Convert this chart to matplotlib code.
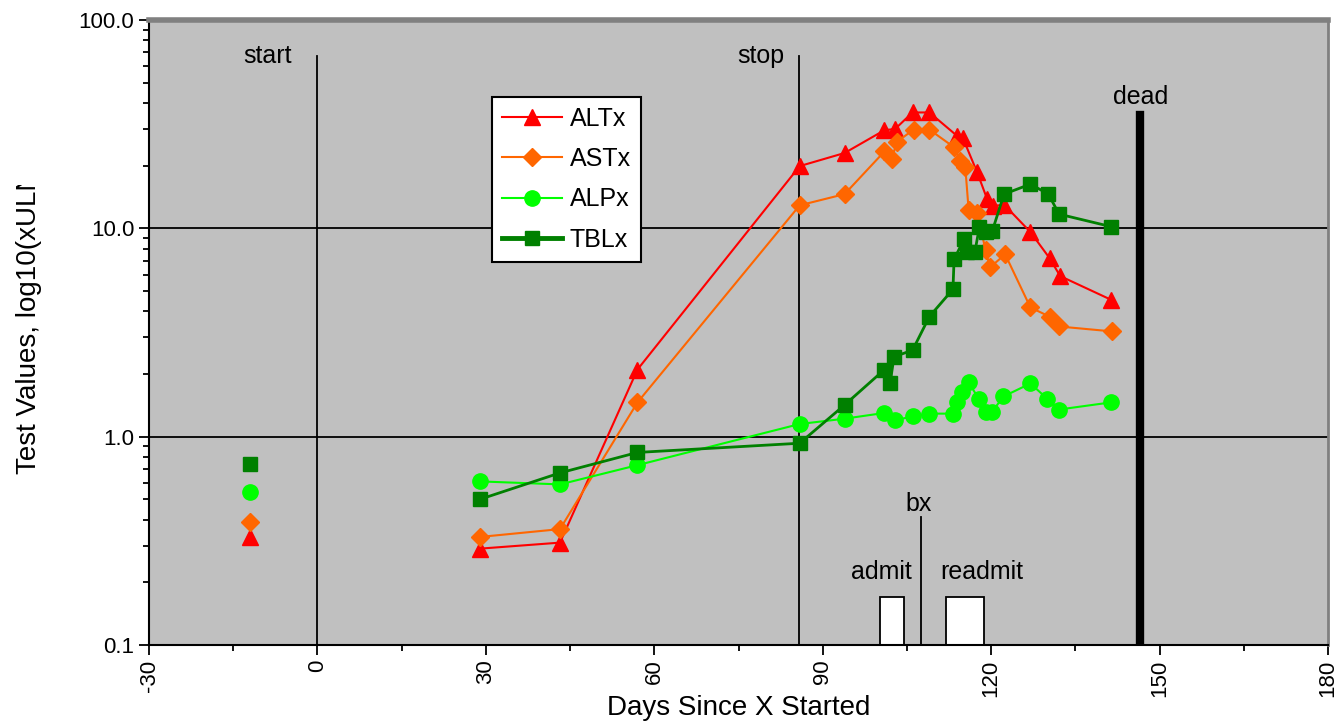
import matplotlib.pyplot as plt
from matplotlib.patches import Rectangle
from matplotlib.transforms import Bbox

plt.rcParams['font.family'] = ['Liberation Sans', 'DejaVu Sans']

# baseline values (before start), plotted as lone markers
base_day = -12
alt_base = 0.33
ast_base = 0.39
alp_base = 0.54
tbl_base = 0.74

alt_days = [28.9, 43.2, 57, 85.9, 93.9, 101, 102.9, 106, 109, 114, 115, 117.5, 119.3, 120.4, 122.3, 127, 130.4, 132.3, 141.3]
alt_vals = [0.29, 0.31, 2.1, 19.9, 23, 29.6, 30, 36, 36, 27.7, 27, 18.6, 13.8, 12.8, 13, 9.6, 7.2, 5.9, 4.55]

ast_days = [28.9, 43.2, 57, 85.9, 93.9, 101, 102.3, 103.2, 106.2, 109, 113.4, 114.5, 115.4, 116, 117.5, 119, 119.8, 122.5, 127, 130.4, 132.1, 141.6]
ast_vals = [0.33, 0.36, 1.46, 12.9, 14.6, 23.4, 21.5, 26, 29.8, 29.8, 24.5, 21, 19.6, 12.2, 11.8, 7.9, 6.5, 7.5, 4.17, 3.77, 3.38, 3.2]

alp_days = [28.9, 43.2, 57, 85.9, 93.9, 101, 102.9, 106, 108.9, 113.2, 114, 114.8, 116, 117.8, 119, 120.2, 122.2, 127, 130, 132.1, 141.3]
alp_vals = [0.61, 0.59, 0.73, 1.15, 1.22, 1.3, 1.2, 1.25, 1.29, 1.29, 1.47, 1.63, 1.82, 1.52, 1.32, 1.32, 1.56, 1.8, 1.52, 1.35, 1.46]

tbl_days = [28.9, 43.2, 57, 85.9, 93.9, 101, 102, 102.7, 106, 109, 113.2, 113.4, 115.2, 115.7, 117.1, 117.9, 119, 120.2, 122.3, 127, 130.2, 132.1, 141.3]
tbl_vals = [0.50, 0.67, 0.84, 0.93, 1.42, 2.1, 1.8, 2.42, 2.6, 3.77, 5.1, 7.1, 8.9, 7.7, 7.7, 10.1, 9.6, 9.7, 14.6, 16.3, 14.6, 11.7, 10.2]

# events
start_day, stop_day, bx_day, dead_day = 0, 85.7, 107.5, 146.6
admit = (100.2, 104.5)
readmit = (112, 118.8)

fig = plt.figure(figsize=(13.38, 7.23), dpi=100)
ax = fig.add_axes([0.1114, 0.1079, 0.8811, 0.8644])
ax.set_facecolor('#c0c0c0')
ax.set_yscale('log')
ax.set_xlim(-30, 180)
ax.set_ylim(0.1, 100)

ax.axhline(1.0, color='black', lw=1.3, zorder=1)
ax.axhline(10.0, color='black', lw=1.3, zorder=1)

ax.plot([start_day, start_day], [0.1, 67], color='black', lw=1.3, zorder=1)
ax.plot([stop_day, stop_day], [0.1, 67], color='black', lw=1.3, zorder=1)
ax.plot([bx_day, bx_day], [0.1, 0.41], color='black', lw=1.3, zorder=1)
ax.plot([dead_day, dead_day], [0.1, 35], color='black', lw=6, zorder=1)
ax.text(-4.5, 67, 'start', ha='right', va='center', fontsize=18)
ax.text(83.2, 67, 'stop', ha='right', va='center', fontsize=18)
ax.text(dead_day, 37.5, 'dead', ha='center', va='bottom', fontsize=18)
ax.text(bx_day - 0.4, 0.415, 'bx', ha='center', va='bottom', fontsize=18)

for (a, b) in (admit, readmit):
    ax.add_patch(Rectangle((a, 0.1), b - a, 0.07, facecolor='white', edgecolor='black', lw=1.3, zorder=2))
ax.text(100.5, 0.196, 'admit', ha='center', va='bottom', fontsize=18)
ax.text(118.4, 0.196, 'readmit', ha='center', va='bottom', fontsize=18)

ax.plot(alt_days, alt_vals, color='#ff0000', marker='^', ms=11, lw=1.5, label='ALTx', zorder=3)
ax.plot(ast_days, ast_vals, color='#ff6600', marker='D', ms=9, lw=1.5, label='ASTx', zorder=3)
ax.plot(alp_days, alp_vals, color='#00ff00', marker='o', ms=11, lw=1.5, label='ALPx', zorder=3)
ax.plot(tbl_days, tbl_vals, color='#008000', marker='s', ms=10, lw=2, label='TBLx', zorder=3)

ax.plot(base_day, alt_base, color='#ff0000', marker='^', ms=11, ls='none', zorder=3)
ax.plot(base_day, ast_base, color='#ff6600', marker='D', ms=9, ls='none', zorder=3)
ax.plot(base_day, alp_base, color='#00ff00', marker='o', ms=11, ls='none', zorder=3)
ax.plot(base_day, tbl_base, color='#008000', marker='s', ms=10, ls='none', zorder=3)

leg = ax.legend(loc='upper left', bbox_to_anchor=(0.291, 0.877), fontsize=18, fancybox=False,
                framealpha=1, edgecolor='black', handlelength=2.4, handletextpad=0.3,
                borderpad=0.4, borderaxespad=0, labelspacing=0.65)
leg.get_frame().set_linewidth(1.5)
leg.get_lines()[3].set_linewidth(3.5)

ax.set_xticks(range(-30, 181, 30))
ax.set_xticks(range(-15, 181, 30), minor=True)
ax.set_xticklabels([str(v) for v in range(-30, 181, 30)], rotation=90, fontsize=16)
ax.set_yticks([0.1, 1, 10, 100])
ax.set_yticklabels(['0.1', '1.0', '10.0', '100.0'], fontsize=16)
ax.tick_params(axis='both', which='major', length=7, width=1.3, direction='out')
ax.tick_params(axis='both', which='minor', length=4, width=1.3, direction='out')
ax.tick_params(axis='y', which='minor', labelleft=False)

ax.spines['left'].set_linewidth(1.5)
ax.spines['bottom'].set_linewidth(1.5)
ax.spines['top'].set_color('#808080')
ax.spines['top'].set_linewidth(4)
ax.spines['right'].set_color('#808080')
ax.spines['right'].set_linewidth(2)

ax.set_xlabel('Days Since X Started', fontsize=20, labelpad=-1)
ylab = fig.text(0.012, 1 - 474 / 723, 'Test Values, log10(xULN)', rotation=90, ha='left', va='bottom', fontsize=20)
# the original label is cut off near its top
ylab.set_clip_box(Bbox.from_extents(0, 0, 200, 723 - 185))

fig.savefig('out.png', dpi=100)
